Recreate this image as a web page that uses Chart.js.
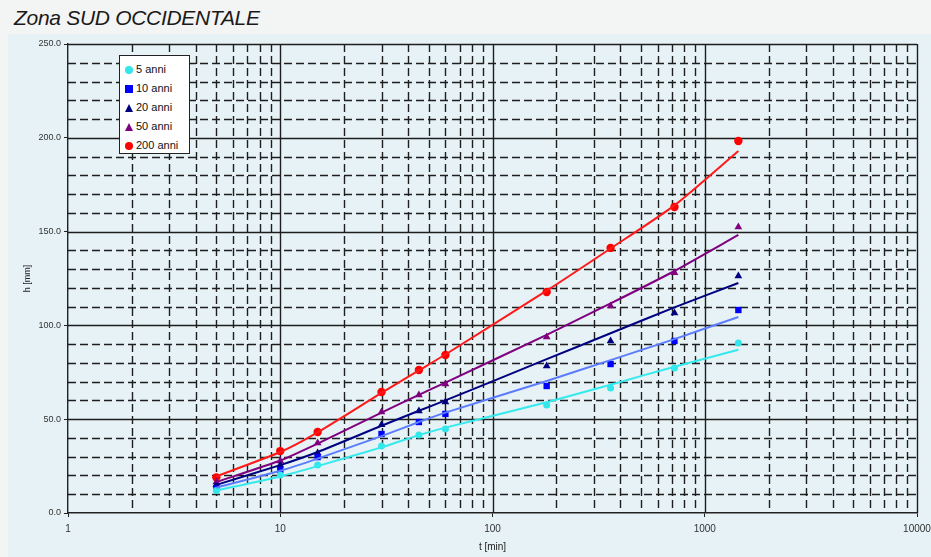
<!DOCTYPE html>
<html lang="it">
<head>
    <meta charset="UTF-8">
    <title>Zona SUD OCCIDENTALE</title>
    <script src="https://cdn.jsdelivr.net/npm/chart.js"></script>
    <style>
        body {
            margin: 0;
            background: #f3f5f5;
            font-family: "Liberation Sans", Arial, sans-serif;
        }
        .wrap {
            position: relative;
            width: 931px;
            height: 557px;
            overflow: hidden;
        }
        .paper {
            position: absolute;
            left: 8px;
            top: 34px;
            width: 923px;
            height: 523px;
            background: #e6f2f5;
        }
        .title {
            position: absolute;
            left: 14px;
            top: 6px;
            font-size: 21px;
            font-style: italic;
            color: #1a1a1a;
            letter-spacing: -0.3px;
        }
        canvas {
            position: absolute;
            left: 0;
            top: 0;
        }
        #legend {
            position: absolute;
            left: 119px;
            top: 55px;
            width: 71px;
            height: 99px;
            background: #fff;
            border: 1px solid #222;
            box-sizing: border-box;
            padding: 4px 0 0 5px;
            font-size: 11px;
            color: #111;
        }
        #legend div {
            height: 19px;
            line-height: 19px;
            white-space: nowrap;
        }
        #legend span.m {
            display: inline-block;
            width: 8px;
            height: 8px;
            margin-right: 3px;
            vertical-align: -1px;
        }
    </style>
</head>
<body>
<div class="wrap">
    <div class="paper"></div>
    <div class="title">Zona SUD OCCIDENTALE</div>
    <canvas id="chart" width="931" height="557"></canvas>
    <div id="legend"></div>
</div>

<script>
    // durate [min]
    const durate = [5, 10, 15, 30, 45, 60, 180, 360, 720, 1440];
    const serie = ['5 anni', '10 anni', '20 anni', '50 anni', '200 anni'];
    const xTicks = [1, 10, 100, 1000, 10000];
    const yTicks = [0, 50, 100, 150, 200, 250];

    // punti osservati h [mm]
    const punti5 = [12, 20.3, 25.6, 35.7, 41.6, 44.8, 57.6, 66.6, 77.3, 90.6];
    const punti10 = [13.3, 22.9, 29.8, 42.1, 48.5, 52.8, 67.7, 79.4, 91.7, 108.2];
    const punti20 = [15, 25.6, 32, 47, 54.4, 59.2, 78.4, 91.7, 106.6, 126.3];
    const punti50 = [16.5, 27.7, 37.3, 53.8, 62.9, 68.8, 93.8, 110.3, 128, 152.5];
    const punti200 = [19, 33, 43.2, 64.5, 76.2, 84.2, 117.8, 141.3, 163.1, 198.3];

    // curve di regressione
    const curva5 = [12, 19.5, 25, 35, 41.5, 45.5, 59, 68.4, 78, 87];
    const curva10 = [13.5, 22.5, 29, 41, 48.5, 53.5, 70.4, 81.5, 92.7, 104.5];
    const curva20 = [15, 25.5, 32.5, 46.5, 54.5, 60, 82, 95.8, 109.6, 122.6];
    const curva50 = [16.5, 28, 37, 53.5, 63, 69.5, 95, 111.7, 129, 148.2];
    const curva200 = [19.5, 32.5, 43, 64, 76, 84.5, 118.5, 141, 164, 193];

    const coloriPunti = ['#33e6ea', '#0000ff', '#000080', '#800080', '#ff0000'];
    const coloriLinee = ['#33eaee', '#5b7cff', '#000080', '#800080', '#ff1a1a'];
    const marker = ['circle', 'rect', 'triangle', 'triangle', 'circle'];
    const raggi = [3.5, 4.5, 4.5, 4.5, 4.2];

    const punti = [punti5, punti10, punti20, punti50, punti200];
    const curve = [curva5, curva10, curva20, curva50, curva200];

    const xy = arr => arr.map((v, i) => ({ x: durate[i], y: v }));

    const datasets = [];
    curve.forEach((c, i) => {
        datasets.push({
            type: 'line',
            label: serie[i] + ' fit',
            data: xy(c),
            borderColor: coloriLinee[i],
            borderWidth: 2,
            pointRadius: 0,
            tension: 0.2,
            fill: false
        });
    });
    punti.forEach((p, i) => {
        datasets.push({
            type: 'scatter',
            label: serie[i],
            data: xy(p),
            backgroundColor: coloriPunti[i],
            borderWidth: 0,
            pointStyle: marker[i],
            pointRadius: raggi[i],
            showLine: false
        });
    });

    // griglia tratteggiata stile foglio semilogaritmico
    const griglia = {
        id: 'griglia',
        beforeDatasetsDraw(chart) {
            const { ctx, chartArea: a, scales: { x, y } } = chart;
            ctx.save();
            ctx.strokeStyle = '#1e1e1e';
            ctx.lineWidth = 1.4;
            for (let v = 10; v <= 250; v += 10) {
                const py = Math.round(y.getPixelForValue(v)) + 0.5;
                ctx.setLineDash(v % 50 === 0 ? [] : [8, 4]);
                ctx.beginPath();
                ctx.moveTo(a.left, py);
                ctx.lineTo(a.right, py);
                ctx.stroke();
            }
            for (let d = 1; d < 10000; d *= 10) {
                for (let k = 2; k <= 10; k++) {
                    const px = Math.round(x.getPixelForValue(d * k)) + 0.5;
                    ctx.setLineDash(k === 10 ? [] : [8, 4]);
                    ctx.beginPath();
                    ctx.moveTo(px, a.top);
                    ctx.lineTo(px, a.bottom);
                    ctx.stroke();
                }
            }
            ctx.restore();
        }
    };

    new Chart(document.getElementById('chart'), {
        data: { datasets: datasets },
        options: {
            responsive: false,
            animation: false,
            layout: { padding: { left: 10, right: 14, top: 44, bottom: 4 } },
            plugins: {
                legend: { display: false },
                tooltip: { enabled: false }
            },
            scales: {
                x: {
                    type: 'logarithmic',
                    min: 1,
                    max: 10000,
                    afterBuildTicks: s => { s.ticks = xTicks.map(v => ({ value: v })); },
                    afterFit: s => { s.height = 40; s.paddingRight = 0; s.paddingLeft = 0; },
                    ticks: {
                        callback: v => String(v),
                        color: '#333',
                        font: { size: 10, family: 'Liberation Sans' },
                        maxRotation: 0,
                        padding: 6
                    },
                    grid: { drawOnChartArea: false, tickLength: 4, color: '#222' },
                    border: { color: '#222', width: 1.4 },
                    title: {
                        display: true,
                        text: 't [min]',
                        color: '#222',
                        font: { size: 10, family: 'Liberation Sans' },
                        padding: { top: 2, bottom: 0 }
                    }
                },
                y: {
                    min: 0,
                    max: 250,
                    afterBuildTicks: s => { s.ticks = yTicks.map(v => ({ value: v })); },
                    afterFit: s => { s.width = 58; s.paddingTop = 0; s.paddingBottom = 0; },
                    ticks: {
                        callback: v => v.toFixed(1),
                        color: '#333',
                        font: { size: 9, family: 'Liberation Sans' },
                        padding: 3
                    },
                    grid: { drawOnChartArea: false, tickLength: 4, color: '#222' },
                    border: { color: '#222', width: 1.4 },
                    title: {
                        display: true,
                        text: 'h [mm]',
                        color: '#222',
                        font: { size: 9, family: 'Liberation Sans' },
                        padding: { top: 12, bottom: 0 }
                    }
                }
            }
        },
        plugins: [griglia]
    });

    // legenda interna
    const leg = document.getElementById('legend');
    serie.forEach((s, i) => {
        const row = document.createElement('div');
        const m = document.createElement('span');
        m.className = 'm';
        if (marker[i] === 'circle') {
            m.style.background = coloriPunti[i];
            m.style.borderRadius = '50%';
        } else if (marker[i] === 'rect') {
            m.style.background = coloriPunti[i];
        } else {
            m.style.width = '0';
            m.style.height = '0';
            m.style.borderLeft = '4px solid transparent';
            m.style.borderRight = '4px solid transparent';
            m.style.borderBottom = '8px solid ' + coloriPunti[i];
        }
        row.appendChild(m);
        row.appendChild(document.createTextNode(s));
        leg.appendChild(row);
    });
</script>
</body>
</html>
